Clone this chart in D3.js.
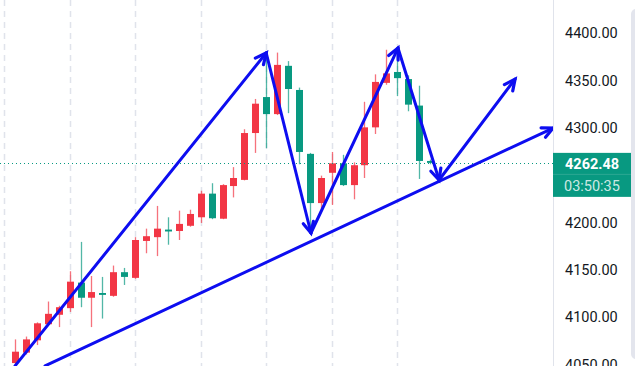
<!DOCTYPE html>
<html>
<head>
<meta charset="utf-8">
<script src="https://cdnjs.cloudflare.com/ajax/libs/d3/7.8.5/d3.min.js"></script>
<style>
body { margin: 0; background: #fff; overflow: hidden; }
text { font-family: Roboto, "Liberation Sans", sans-serif; }
</style>
</head>
<body>
<script>
// candles, oldest first
var opens  = [4051, 4062, 4075, 4092, 4102, 4109, 4136, 4120, 4125, 4122, 4147, 4141, 4180, 4184, 4192, 4190.5, 4196, 4205, 4230, 4203.5, 4238, 4244.5, 4294, 4332, 4314, 4365, 4339.5, 4272, 4220, 4252, 4262, 4239, 4260, 4300, 4347, 4358.5, 4351, 4323, 4264.5];
var highs  = [4076, 4079, 4094, 4116, 4111.5, 4148, 4179, 4143, 4142, 4154, 4151.5, 4184, 4193, 4217, 4205, 4212, 4213, 4233, 4241, 4240, 4258, 4298, 4330, 4376, 4379, 4370, 4342, 4273, 4249, 4274, 4271, 4263, 4327, 4356, 4382, 4385, 4355, 4344, 4266];
var lows   = [4044, 4060, 4070, 4091, 4089, 4105, 4110, 4089, 4098, 4121, 4133.5, 4140, 4167, 4164, 4176, 4181, 4195, 4199, 4203, 4203, 4226, 4244, 4273, 4278, 4313, 4315, 4261, 4194, 4213, 4218, 4238, 4224, 4246.5, 4293, 4345, 4333, 4317, 4245.5, 4261];
var closes = [4063, 4076, 4093, 4103, 4110, 4137, 4120, 4126, 4123, 4147, 4142, 4181, 4185, 4193, 4190, 4198, 4208.5, 4230, 4204, 4239, 4246.5, 4294, 4325, 4314, 4366, 4340.5, 4274, 4220, 4246.5, 4262, 4239, 4260, 4300, 4348, 4357, 4352, 4324, 4264.5, 4262.48];

var yTicks = [4050, 4100, 4150, 4200, 4300, 4350, 4400];
var gridIdx = [-1, 5, 11, 17, 23, 29, 35];
var lastPrice = 4262.48;
var countdown = "03:50:35";

// hand drawn arrows: zigzag (bar index, price) and two extra arrows
var zigIdx   = [0, 23, 27.1, 35.07, 38.83];
var zigPrice = [4048, 4378.6, 4188.4, 4383.8, 4244.4];
var upIdx    = [38.83, 45.79];
var upPrice  = [4244.4, 4351];
var trendIdx   = [2.75, 49.27];
var trendPrice = [4048, 4299.3];

var width = 635, height = 366, axisX = 553;
var up = "#f23645", down = "#089981", blue = "#0d0df0";

var svg = d3.select("body").append("svg")
    .attr("width", width)
    .attr("height", height);

var x = d3.scaleLinear().domain([0, 38]).range([15, 430]);
var y = d3.scaleLinear().domain([4050, 4400]).range([364, 32.7]);

//Grid
svg.selectAll(".vgrid").data(gridIdx).enter().append("line")
    .attr("x1", function (d) { return Math.round(x(d)) + 0.5; })
    .attr("x2", function (d) { return Math.round(x(d)) + 0.5; })
    .attr("y1", 0).attr("y2", height)
    .attr("stroke", "#e0e3eb")
    .attr("stroke-width", 1.5)
    .attr("stroke-dasharray", "6,5");

//Candles
var bars = d3.range(opens.length);
var g = svg.append("g");
g.selectAll(".wick").data(bars).enter().append("line")
    .attr("x1", function (i) { return Math.round(x(i)) + 0.5; })
    .attr("x2", function (i) { return Math.round(x(i)) + 0.5; })
    .attr("y1", function (i) { return y(highs[i]); })
    .attr("y2", function (i) { return y(lows[i]); })
    .attr("stroke", function (i) { return closes[i] >= opens[i] ? up : down; })
    .attr("stroke-opacity", 0.7)
    .attr("stroke-width", 1.3);
g.selectAll(".body").data(bars).enter().append("rect")
    .attr("x", function (i) { return Math.round(x(i)) - 3; })
    .attr("width", 7)
    .attr("y", function (i) { return y(Math.max(opens[i], closes[i])); })
    .attr("height", function (i) { return Math.max(1.5, Math.abs(y(opens[i]) - y(closes[i]))); })
    .attr("fill", function (i) { return closes[i] >= opens[i] ? up : down; });

//Last price line
svg.append("line")
    .attr("x1", 0).attr("x2", axisX)
    .attr("y1", Math.round(y(lastPrice)) + 0.5).attr("y2", Math.round(y(lastPrice)) + 0.5)
    .attr("stroke", down)
    .attr("stroke-width", 1)
    .attr("stroke-dasharray", "1,3");

//Arrows
function arrowHead(x1, y1, x2, y2) {
    var a = Math.atan2(y2 - y1, x2 - x1), len = 12, spread = 0.45;
    var p = d3.path();
    p.moveTo(x2 - len * Math.cos(a - spread), y2 - len * Math.sin(a - spread));
    p.lineTo(x2, y2);
    p.lineTo(x2 - len * Math.cos(a + spread), y2 - len * Math.sin(a + spread));
    svg.append("path").attr("d", p.toString())
        .attr("fill", "none").attr("stroke", blue)
        .attr("stroke-width", 3.2).attr("stroke-linejoin", "miter").attr("stroke-linecap", "round");
}
function arrowLine(idx, price) {
    for (var k = 1; k < idx.length; k++) {
        var x1 = x(idx[k - 1]), y1 = y(price[k - 1]), x2 = x(idx[k]), y2 = y(price[k]);
        svg.append("line")
            .attr("x1", x1).attr("y1", y1).attr("x2", x2).attr("y2", y2)
            .attr("stroke", blue).attr("stroke-width", 3).attr("stroke-linecap", "round");
        arrowHead(x1, y1, x2, y2);
    }
}
arrowLine(trendIdx, trendPrice);
arrowLine(zigIdx, zigPrice);
arrowLine(upIdx, upPrice);

//Price scale
svg.append("rect")
    .attr("x", axisX).attr("y", 0).attr("width", width - axisX).attr("height", height)
    .attr("fill", "#fff");
svg.append("line")
    .attr("x1", axisX + 0.5).attr("x2", axisX + 0.5).attr("y1", 0).attr("y2", height)
    .attr("stroke", "#e0e3eb");
svg.append("rect")
    .attr("x", 631).attr("y", 9).attr("width", 12).attr("height", 350).attr("rx", 5)
    .attr("fill", "#e3e5ed");

var axis = svg.append("g")
    .attr("transform", "translate(" + axisX + ",0)")
    .call(d3.axisRight(y).tickValues(yTicks).tickFormat(d3.format(".2f")).tickSize(0).tickPadding(12));
axis.select(".domain").remove();
axis.selectAll("text")
    .attr("fill", "#131722")
    .attr("font-size", "14.5px")
    .attr("dy", "0.35em");

//Last price label
var ly = y(lastPrice);
svg.append("rect")
    .attr("x", axisX).attr("y", ly - 10).attr("width", 78).attr("height", 44)
    .attr("fill", down);
svg.append("line")
    .attr("x1", axisX).attr("x2", axisX + 78).attr("y1", ly + 11.5).attr("y2", ly + 11.5)
    .attr("stroke", "#ffffff").attr("stroke-opacity", 0.15);
svg.append("text")
    .attr("x", 565).attr("y", ly + 1).attr("dy", "0.35em")
    .attr("fill", "#fff").attr("font-size", "14.5px").attr("font-weight", "bold")
    .text(lastPrice.toFixed(2));
svg.append("text")
    .attr("x", 564).attr("y", ly + 23).attr("dy", "0.35em")
    .attr("fill", "#fff").attr("fill-opacity", 0.8).attr("font-size", "14.5px")
    .text(countdown);
</script>
</body>
</html>
